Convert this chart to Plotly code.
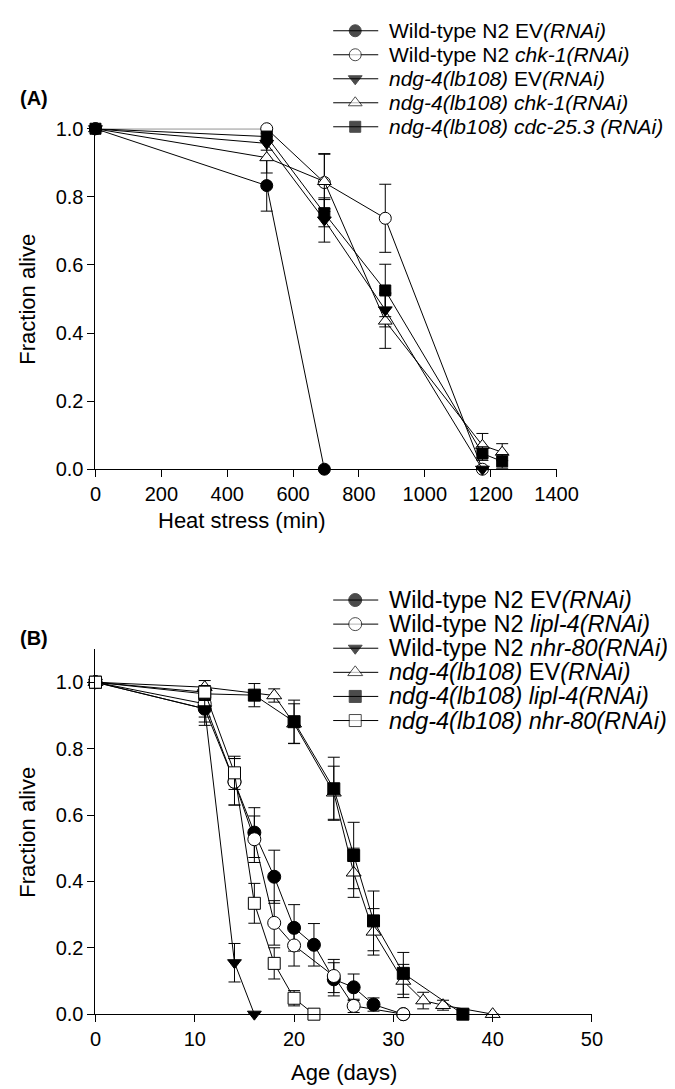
import plotly.graph_objects as go

W, H = 675, 1089
FONT = "Liberation Sans, Arial, Helvetica, sans-serif"

# ---------------- Panel A data (heat stress, min) ----------------
a_names = ["Wild-type N2 EV<i>(RNAi)</i>",
           "Wild-type N2 <i>chk-1(RNAi)</i>",
           "<i>ndg-4(lb108)</i> EV<i>(RNAi)</i>",
           "<i>ndg-4(lb108) chk-1(RNAi)</i>",
           "<i>ndg-4(lb108) cdc-25.3 (RNAi)</i>"]
a_wt_ev_x = [0, 520, 695]
a_wt_ev_y = [1.0, 0.833, 0.0]
a_wt_ev_e = [0, 0.075, 0]
a_wt_chk1_x = [0, 520, 695, 880, 1175]
a_wt_chk1_y = [1.0, 1.0, 0.842, 0.737, 0.0]
a_wt_chk1_e = [0, 0, 0.085, 0.10, 0]
a_ndg_ev_x = [0, 520, 695, 880, 1175]
a_ndg_ev_y = [1.0, 0.957, 0.732, 0.468, 0.0]
a_ndg_ev_e = [0, 0.02, 0.065, 0.05, 0]
a_ndg_chk1_x = [0, 520, 695, 880, 1175, 1235]
a_ndg_chk1_y = [1.0, 0.915, 0.845, 0.435, 0.07, 0.05]
a_ndg_chk1_e = [0, 0.045, 0.08, 0.08, 0.035, 0.025]
a_ndg_cdc_x = [0, 520, 695, 880, 1175, 1235]
a_ndg_cdc_y = [1.0, 0.977, 0.752, 0.525, 0.046, 0.023]
a_ndg_cdc_e = [0, 0.01, 0.04, 0.077, 0.02, 0.02]

# ---------------- Panel B data (age, days) ----------------
b_names = ["Wild-type N2 EV<i>(RNAi)</i>",
           "Wild-type N2 <i>lipl-4(RNAi)</i>",
           "Wild-type N2 <i>nhr-80(RNAi)</i>",
           "<i>ndg-4(lb108)</i> EV<i>(RNAi)</i>",
           "<i>ndg-4(lb108) lipl-4(RNAi)</i>",
           "<i>ndg-4(lb108) nhr-80(RNAi)</i>"]
b_wt_ev_x = [0, 11, 14, 16, 18, 20, 22, 24, 26, 28, 31]
b_wt_ev_y = [1.0, 0.92, 0.70, 0.547, 0.414, 0.26, 0.209, 0.105, 0.081, 0.029, 0.0]
b_wt_ev_e = [0, 0.05, 0.07, 0.075, 0.08, 0.07, 0.064, 0.05, 0.04, 0.02, 0]
b_wt_lipl_x = [0, 11, 14, 16, 18, 20, 24, 26, 31]
b_wt_lipl_y = [1.0, 0.935, 0.70, 0.527, 0.275, 0.207, 0.115, 0.025, 0.0]
b_wt_lipl_e = [0, 0.04, 0.07, 0.07, 0.067, 0.062, 0.05, 0.02, 0]
b_wt_nhr_x = [0, 11, 14, 16]
b_wt_nhr_y = [1.0, 0.92, 0.155, 0.0]
b_wt_nhr_e = [0, 0.04, 0.058, 0]
b_ndg_ev_x = [0, 11, 18, 20, 24, 26, 28, 31, 33, 35, 40]
b_ndg_ev_y = [1.0, 0.985, 0.96, 0.875, 0.667, 0.426, 0.248, 0.10, 0.041, 0.027, 0.0]
b_ndg_ev_e = [0, 0.02, 0.02, 0.06, 0.08, 0.074, 0.07, 0.05, 0.025, 0.015, 0]
b_ndg_lipl_x = [0, 11, 16, 20, 24, 26, 28, 31, 37]
b_ndg_lipl_y = [1.0, 0.965, 0.961, 0.881, 0.679, 0.478, 0.281, 0.123, 0.0]
b_ndg_lipl_e = [0, 0.02, 0.035, 0.065, 0.095, 0.10, 0.09, 0.063, 0]
b_ndg_nhr_x = [0, 11, 14, 16, 18, 20, 22]
b_ndg_nhr_y = [1.0, 0.97, 0.727, 0.334, 0.153, 0.048, 0.0]
b_ndg_nhr_e = [0, 0.02, 0.05, 0.06, 0.047, 0.023, 0]

# marker styles: (symbol, fill, size)
a_styles = [("circle", "black", 12), ("circle", "white", 12),
            ("triangle-down", "black", 12), ("triangle-up", "white", 12),
            ("square", "black", 11)]
b_styles = [("circle", "black", 13), ("circle", "white", 13),
            ("triangle-down", "black", 12), ("triangle-up", "white", 13),
            ("square", "black", 12), ("square", "white", 12)]

a_series = [(a_wt_ev_x, a_wt_ev_y, a_wt_ev_e), (a_wt_chk1_x, a_wt_chk1_y, a_wt_chk1_e),
            (a_ndg_ev_x, a_ndg_ev_y, a_ndg_ev_e), (a_ndg_chk1_x, a_ndg_chk1_y, a_ndg_chk1_e),
            (a_ndg_cdc_x, a_ndg_cdc_y, a_ndg_cdc_e)]
b_series = [(b_wt_ev_x, b_wt_ev_y, b_wt_ev_e), (b_wt_lipl_x, b_wt_lipl_y, b_wt_lipl_e),
            (b_wt_nhr_x, b_wt_nhr_y, b_wt_nhr_e), (b_ndg_ev_x, b_ndg_ev_y, b_ndg_ev_e),
            (b_ndg_lipl_x, b_ndg_lipl_y, b_ndg_lipl_e), (b_ndg_nhr_x, b_ndg_nhr_y, b_ndg_nhr_e)]

fig = go.Figure()

def add_series(series, styles, xa, ya):
    for (x, y, e), (sym, fill, size) in zip(series, styles):
        fig.add_trace(go.Scatter(
            x=x, y=y, mode="lines+markers", xaxis=xa, yaxis=ya,
            line=dict(color="black", width=1),
            marker=dict(symbol=sym, color=fill, size=size,
                        line=dict(color="black", width=1)),
            error_y=dict(type="data", array=e, color="black", thickness=1, width=6),
            cliponaxis=False, showlegend=False, hoverinfo="skip"))

add_series(a_series, a_styles, "x", "y")
add_series(b_series, b_styles, "x2", "y2")

# ---------------- custom legends (glyphs on a pixel overlay axis) ----------------
def px(xp):
    return xp / W
def py(yp):
    return 1 - yp / H

annotations = []
def add_legend(names, styles, y0, step, fsize):
    for i, (name, (sym, fill, size)) in enumerate(zip(names, styles)):
        yy = y0 + i * step
        fig.add_trace(go.Scatter(
            x=[333, 356, 380], y=[yy, yy, yy], mode="lines+markers", xaxis="x3", yaxis="y3",
            line=dict(color="black", width=1),
            marker=dict(symbol=sym, color=fill, size=[0, size, 0],
                        line=dict(color="black", width=1)),
            cliponaxis=False, showlegend=False, hoverinfo="skip"))
        annotations.append(dict(x=px(389), y=py(yy), xref="paper", yref="paper",
                                text=name, showarrow=False, xanchor="left", yanchor="middle",
                                font=dict(family=FONT, size=fsize, color="black")))

add_legend(a_names, a_styles, 12, 24.5, 21)
add_legend(b_names, b_styles, 593, 24.6, 23.5)

# panel labels and axis titles
annotations += [
    dict(x=px(4), y=py(81), xref="paper", yref="paper", text="<b>(A)</b>", showarrow=False,
         xanchor="left", yanchor="middle", font=dict(family=FONT, size=20, color="black")),
    dict(x=px(4), y=py(632), xref="paper", yref="paper", text="<b>(B)</b>", showarrow=False,
         xanchor="left", yanchor="middle", font=dict(family=FONT, size=20, color="black")),
    dict(x=px(237), y=py(512), xref="paper", yref="paper", text="Heat stress (min)", showarrow=False,
         xanchor="center", yanchor="middle", font=dict(family=FONT, size=22, color="black")),
    dict(x=px(344), y=py(1075), xref="paper", yref="paper", text="Age (days)", showarrow=False,
         xanchor="center", yanchor="middle", font=dict(family=FONT, size=22, color="black")),
    dict(x=px(14), y=py(286), xref="paper", yref="paper", text="Fraction alive", showarrow=False,
         textangle=-90, xanchor="center", yanchor="middle", font=dict(family=FONT, size=22, color="black")),
    dict(x=px(14), y=py(830), xref="paper", yref="paper", text="Fraction alive", showarrow=False,
         textangle=-90, xanchor="center", yanchor="middle", font=dict(family=FONT, size=22, color="black")),
]

axis_common = dict(showline=True, linecolor="black", linewidth=1, ticks="outside",
                   ticklen=7, tickwidth=1, tickcolor="black", showgrid=False, zeroline=False,
                   tickfont=dict(family=FONT, size=20, color="black"), fixedrange=True)

fig.update_layout(
    width=W, height=H, margin=dict(l=0, r=0, t=0, b=0),
    paper_bgcolor="white", plot_bgcolor="rgba(0,0,0,0)", showlegend=False,
    xaxis=dict(domain=[px(85), px(566)], range=[0, 1400], dtick=200, tick0=0,
               anchor="y", **axis_common),
    yaxis=dict(domain=[py(459.5), py(112)], range=[0, 1.0], dtick=0.2, tick0=0,
               tickformat=".1f", anchor="x", **axis_common),
    xaxis2=dict(domain=[px(85), px(603)], range=[0, 50], dtick=10, tick0=0,
                anchor="y2", **axis_common),
    yaxis2=dict(domain=[py(1015.7), py(643)], range=[0, 1.1], tickvals=[0, 0.2, 0.4, 0.6, 0.8, 1.0],
                tickformat=".1f", anchor="x2", **axis_common),
    xaxis3=dict(domain=[0, 1], range=[0, W], visible=False, anchor="y3", fixedrange=True),
    yaxis3=dict(domain=[0, 1], range=[H, 0], visible=False, anchor="x3", fixedrange=True),
    annotations=annotations,
)

fig.write_html("out.html")
